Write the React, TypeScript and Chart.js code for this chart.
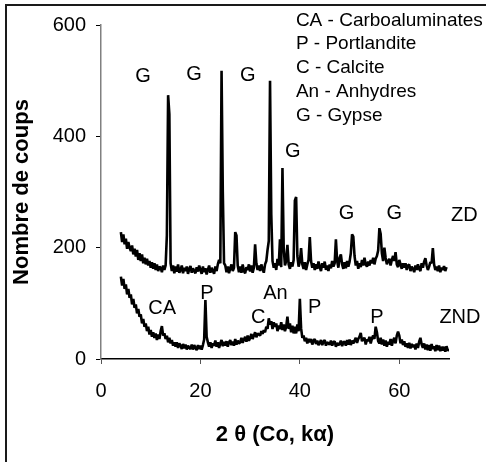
import React, { useEffect, useRef } from "react";
import { Chart, registerables } from "chart.js";

Chart.register(...registerables);

// XRD step scan: first angle and step (degrees 2θ)
const START_ANGLE = 4;
const ANGLE_STEP = 0.25;

// ZD pattern (counts), one row per degree: x.00, x.25, x.50, x.75
const zdCounts = [
  228, 210, 224, 206, // 4
  216, 198, 210, 200, // 5
  194, 204, 188, 198, // 6
  184, 196, 178, 190, // 7
  176, 188, 172, 182, // 8
  170, 180, 168, 176, // 9
  164, 174, 162, 172, // 10
  160, 170, 158, 166, // 11
  164, 156, 168, 160, // 12
  168, 222, 474, 440, // 13
  172, 158, 168, 154, // 14
  166, 157, 170, 155, // 15
  160, 168, 154, 164, // 16
  158, 166, 153, 162, // 17
  167, 155, 163, 158, // 18
  154, 165, 157, 168, // 19
  160, 153, 166, 156, // 20
  163, 152, 160, 168, // 21
  155, 164, 158, 153, // 22
  166, 158, 170, 178, // 23
  172, 518, 300, 172, // 24
  168, 156, 166, 154, // 25
  163, 170, 158, 164, // 26
  228, 222, 168, 156, // 27
  166, 155, 170, 158, // 28
  154, 165, 160, 170, // 29
  157, 168, 155, 164, // 30
  206, 172, 160, 168, // 31
  158, 170, 162, 155, // 32
  170, 176, 196, 212, // 33
  500, 260, 176, 164, // 34
  172, 160, 180, 168, // 35
  215, 165, 343, 200, // 36
  168, 176, 205, 170, // 37
  162, 174, 166, 178, // 38
  285, 291, 185, 166, // 39
  175, 199, 170, 162, // 40
  174, 160, 170, 178, // 41
  219, 176, 164, 172, // 42
  160, 170, 162, 175, // 43
  165, 158, 172, 164, // 44
  175, 160, 168, 158, // 45
  170, 163, 176, 166, // 46
  172, 215, 176, 164, // 47
  182, 188, 170, 162, // 48
  174, 163, 176, 166, // 49
  175, 190, 224, 220, // 50
  185, 168, 176, 162, // 51
  172, 165, 178, 168, // 52
  182, 170, 166, 175, // 53
  168, 178, 172, 182, // 54
  170, 180, 185, 195, // 55
  235, 225, 190, 176, // 56
  200, 182, 170, 176, // 57
  180, 168, 178, 185, // 58
  176, 192, 170, 165, // 59
  178, 170, 162, 172, // 60
  164, 172, 160, 168, // 61
  170, 158, 166, 162, // 62
  156, 168, 160, 170, // 63
  162, 158, 172, 164, // 64
  175, 181, 168, 160, // 65
  166, 174, 172, 199, // 66
  170, 160, 166, 158, // 67
  168, 156, 164, 160, // 68
  167, 158, 165,      // 69
];

// ZND pattern (counts)
const zndCounts = [
  148, 132, 144, 126, // 4
  134, 116, 126, 110, // 5
  116, 98, 108, 92, // 6
  98, 82, 90, 76, // 7
  80, 64, 72, 58, // 8
  64, 50, 58, 44, // 9
  52, 40, 48, 38, // 10
  46, 34, 44, 36, // 11
  50, 59, 42, 46, // 12
  36, 42, 30, 38, // 13
  28, 34, 24, 30, // 14
  22, 30, 20, 28, // 15
  24, 18, 27, 19, // 16
  26, 17, 24, 20, // 17
  18, 26, 17, 25, // 18
  20, 16, 25, 18, // 19
  24, 17, 25, 35, // 20
  106, 40, 30, 22, // 21
  30, 20, 28, 24, // 22
  33, 22, 30, 20, // 23
  28, 34, 23, 31, // 24
  24, 32, 22, 30, // 25
  34, 25, 31, 24, // 26
  36, 26, 33, 28, // 27
  30, 38, 29, 35, // 28
  40, 31, 42, 33, // 29
  38, 45, 36, 42, // 30
  48, 39, 46, 44, // 31
  42, 50, 45, 52, // 32
  48, 58, 54, 73, // 33
  62, 68, 54, 66, // 34
  58, 64, 50, 60, // 35
  54, 66, 52, 62, // 36
  50, 58, 76, 54, // 37
  64, 48, 60, 46, // 38
  58, 46, 62, 50, // 39
  108, 55, 38, 42, // 40
  32, 38, 28, 36, // 41
  30, 36, 26, 33, // 42
  36, 27, 33, 25, // 43
  29, 34, 25, 31, // 44
  34, 24, 30, 28, // 45
  26, 33, 24, 30, // 46
  32, 22, 29, 25, // 47
  27, 33, 23, 30, // 48
  31, 24, 34, 26, // 49
  35, 25, 33, 28, // 50
  33, 38, 29, 36, // 51
  40, 47, 32, 36, // 52
  38, 26, 35, 32, // 53
  40, 28, 37, 42, // 54
  36, 58, 48, 32, // 55
  28, 38, 26, 35, // 56
  24, 33, 22, 31, // 57
  26, 36, 24, 33, // 58
  38, 28, 42, 49, // 59
  42, 28, 35, 25, // 60
  32, 22, 28, 20, // 61
  29, 19, 27, 21, // 62
  26, 17, 28, 20, // 63
  31, 38, 26, 20, // 64
  28, 17, 26, 16, // 65
  25, 15, 27, 18, // 66
  23, 14, 25, 16, // 67
  24, 14, 22, 15, // 68
  22, 13, 23, 15, // 69
  18,             // 70
];

const xTicks = [0, 20, 40, 60];
const yTicks = [0, 200, 400, 600];

const peakLabelText = ["G", "G", "G", "G", "G", "G", "ZD", "CA", "P", "C", "An", "P", "P", "ZND"];
const peakLabelAngle = [8.45, 18.7, 29.5, 38.6, 49.4, 59.0, 73.1, 12.3, 21.3, 31.6, 35.1, 43.0, 55.5, 72.2];
const peakLabelCount = [508, 512, 510, 373, 262, 262, 258, 90, 118, 75, 117, 92, 74, 74];

const legendLines = [
  "CA - Carboaluminates",
  "P - Portlandite",
  "C - Calcite",
  "An - Anhydres",
  "G - Gypse",
];
const LEGEND_ANGLE = 39.2;
const LEGEND_COUNT = 608;

const FONT = "'Liberation Sans', Arial, Helvetica, sans-serif";

const overlayPlugin = {
  id: "overlay",
  afterDraw(chart: any) {
    const ctx = chart.ctx;
    const xs = chart.scales.x;
    const ys = chart.scales.y;
    ctx.save();
    // figure frame
    ctx.strokeStyle = "#1a1a1a";
    ctx.lineWidth = 2;
    ctx.beginPath();
    ctx.moveTo(6, chart.height);
    ctx.lineTo(6, 5);
    ctx.lineTo(chart.width, 5);
    ctx.stroke();

    ctx.fillStyle = "#000";
    ctx.font = `20px ${FONT}`;
    ctx.textAlign = "center";
    ctx.textBaseline = "middle";
    peakLabelText.forEach((t, i) => {
      ctx.fillText(t, xs.getPixelForValue(peakLabelAngle[i]), ys.getPixelForValue(peakLabelCount[i]));
    });

    ctx.font = `19px ${FONT}`;
    ctx.textAlign = "left";
    const lx = xs.getPixelForValue(LEGEND_ANGLE);
    const ly = ys.getPixelForValue(LEGEND_COUNT);
    legendLines.forEach((t, i) => {
      ctx.fillText(t, lx, ly + i * 23.7);
    });
    ctx.restore();
  },
};

export default function App() {
  const canvasRef = useRef<HTMLCanvasElement | null>(null);

  useEffect(() => {
    if (!canvasRef.current) return;
    const toPoints = (arr: number[]) =>
      arr.map((c, i) => ({ x: START_ANGLE + i * ANGLE_STEP, y: c }));

    const lineStyle = {
      borderColor: "#000",
      borderWidth: 2.6,
      borderJoinStyle: "bevel" as const,
      pointRadius: 0,
      tension: 0,
      fill: false,
    };

    const chart = new Chart(canvasRef.current, {
      type: "line",
      data: {
        datasets: [
          { label: "ZD", data: toPoints(zdCounts), ...lineStyle },
          { label: "ZND", data: toPoints(zndCounts), ...lineStyle },
        ],
      },
      options: {
        animation: false,
        responsive: false,
        devicePixelRatio: 1,
        layout: { padding: { left: 0, top: 25, right: 37, bottom: 0 } },
        plugins: {
          legend: { display: false },
          tooltip: { enabled: false },
        },
        scales: {
          x: {
            type: "linear",
            min: 0,
            max: 70,
            afterBuildTicks: (s: any) => {
              s.ticks = xTicks.map((v) => ({ value: v }));
            },
            afterFit: (s: any) => {
              s.height = 103;
            },
            grid: {
              drawOnChartArea: false,
              drawTicks: true,
              tickLength: 5,
              tickColor: "#555",
              tickWidth: 1,
            },
            border: { display: true, color: "#000", width: 1.5 },
            ticks: {
              color: "#000",
              padding: 15,
              font: { family: FONT, size: 20 },
              maxRotation: 0,
            },
            title: {
              display: true,
              text: "2 θ (Co, kα)",
              color: "#000",
              font: { family: FONT, size: 22, weight: "bold" },
              padding: { top: 4, bottom: 14 },
            },
          },
          y: {
            type: "linear",
            min: 0,
            max: 600,
            afterBuildTicks: (s: any) => {
              s.ticks = yTicks.map((v) => ({ value: v }));
            },
            afterFit: (s: any) => {
              s.width = 101;
            },
            grid: {
              drawOnChartArea: false,
              drawTicks: true,
              tickLength: 5,
              tickColor: "#000",
              tickWidth: 1,
            },
            border: { display: true, color: "#808080", width: 1.5 },
            ticks: {
              color: "#000",
              padding: 10,
              font: { family: FONT, size: 20 },
            },
            title: {
              display: true,
              text: "Nombre de coups",
              color: "#000",
              font: { family: FONT, size: 22, weight: "bold" },
              padding: { top: 9, bottom: 4 },
            },
          },
        },
      },
      plugins: [overlayPlugin],
    });
    return () => chart.destroy();
  }, []);

  return (
    <div style={{ position: "absolute", left: 0, top: 0, width: 486, height: 462, background: "#fff" }}>
      <canvas ref={canvasRef} width={486} height={462} style={{ display: "block" }} />
    </div>
  );
}
